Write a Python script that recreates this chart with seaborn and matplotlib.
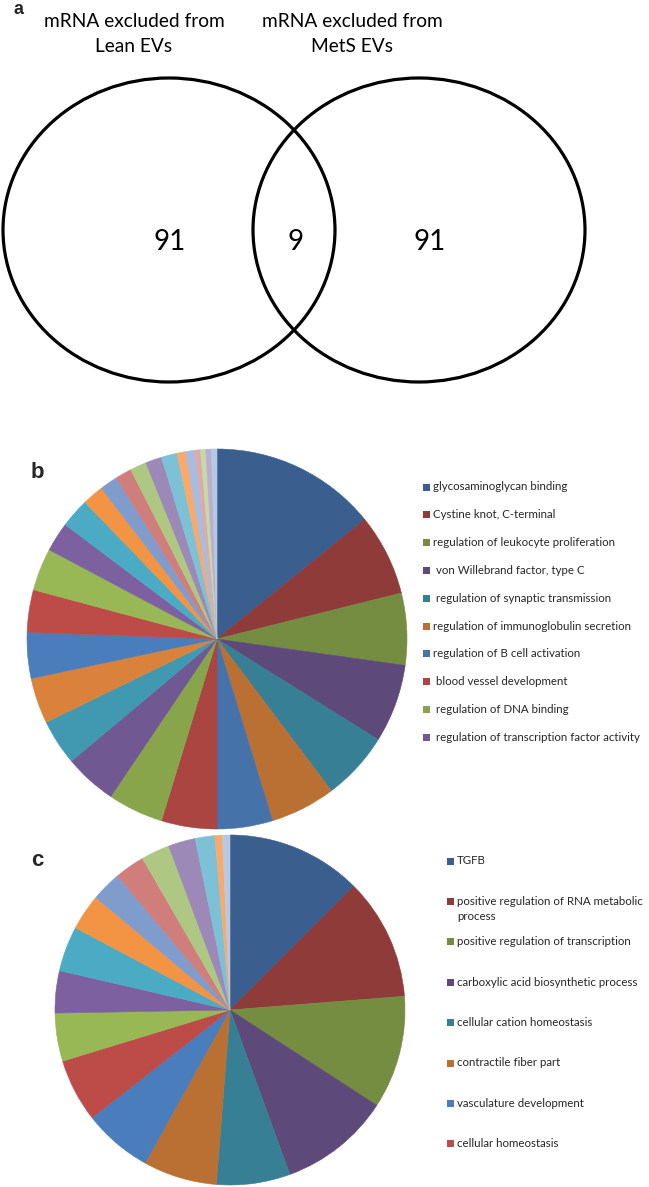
import matplotlib
matplotlib.use("Agg")
import matplotlib.pyplot as plt
from matplotlib.patches import Ellipse, Rectangle
import seaborn as sns

# ---- data -------------------------------------------------------------
venn_titles = ["mRNA excluded from\nLean EVs", "mRNA excluded from\nMetS EVs"]
venn_counts = [91, 9, 91]          # lean only, shared, MetS only

b_labels = ["glycosaminoglycan binding", "Cystine knot, C-terminal",
            "regulation of leukocyte proliferation", " von Willebrand factor, type C",
            " regulation of synaptic transmission", "regulation of immunoglobulin secretion",
            "regulation of B cell activation", " blood vessel development",
            " regulation of DNA binding", " regulation of transcription factor activity"]
# slice sizes (degrees), clockwise from 12 o'clock
b_values = [51, 25, 22, 24, 21, 20, 17, 17, 17, 16, 14, 14, 14, 13, 13,
            9, 9, 6.5, 5.5, 5, 5, 5, 4.8, 2.7, 2.8, 1.7, 1.6, 1.7, 1.7]

c_labels = ["TGFB", "positive regulation of RNA metabolic\nprocess",
            "positive regulation of transcription", "carboxylic acid biosynthetic process",
            "cellular cation homeostasis", "contractile fiber part",
            "vasculature development", "cellular homeostasis"]
c_values = [45, 40.5, 37.5, 37, 24.5, 24.5, 23, 21, 16, 14, 15, 12, 10, 10,
            9.5, 9, 6.5, 2.5, 2.5]

# ---- colours (office-like palette) -------------------------------------
dark = ["#3A5F8F", "#8F3B39", "#748D41", "#5E4A7A", "#377F94", "#BA7033"]
medium = ["#4572A8", "#AA4542", "#88A54C", "#705892", "#4099B0", "#DA823B"]
standard = ["#4A7DBB", "#BD4C49", "#97B855", "#7D60A0", "#4BAAC4", "#F39445"]
light = ["#7F9CCC", "#D07E7B", "#AEC782", "#9C89B8", "#7DC1D6", "#F8A96C"]
lighter = ["#A8BCDF", "#DCAAA9", "#C7D9A6", "#BAAED0", "#B7C8E3"]

b_colors = dark + medium + standard + light + lighter
c_colors = dark + standard + light + ["#B7C8E3"]

# ---- figure ------------------------------------------------------------
sns.set_theme(style="white")
plt.rcParams["font.family"] = ["Lato", "DejaVu Sans"]

W, H = 649, 1187
fig = plt.figure(figsize=(W / 100, H / 100), dpi=100)
fig.patch.set_facecolor("white")

# overlay axis in pixel units for the venn diagram, labels and legends
ax0 = fig.add_axes([0, 0, 1, 1])
ax0.set_xlim(0, W)
ax0.set_ylim(H, 0)
ax0.axis("off")

# panel a: venn
for cx in (169, 419):
    ax0.add_patch(Ellipse((cx, 230), 332, 304, fill=False, lw=2.3, ec="black"))
for x, title in zip((134, 352), venn_titles):
    ax0.text(x, 34, title, ha="center", va="center", fontsize=13.8,
             linespacing=1.55, color="black")
for x, n in zip((170, 296, 430), venn_counts):
    ax0.text(x, 242, str(n), ha="center", va="center", fontsize=20, color="black")

label_font = ["Liberation Sans", "DejaVu Sans"]
ax0.text(18, 10, "a", fontsize=13, fontweight="bold", family=label_font, ha="center", va="center")
ax0.text(37, 472, "b", fontsize=16, fontweight="bold", family=label_font, ha="center", va="center")
ax0.text(37, 861, "c", fontsize=16, fontweight="bold", family=label_font, ha="center", va="center")


def pie_axes(cx, cy, r):
    ax = fig.add_axes([(cx - r) / W, 1 - (cy + r) / H, 2 * r / W, 2 * r / H])
    ax.axis("off")
    return ax


def draw_pie(ax, values, colors):
    wedges, _ = ax.pie(values, colors=colors, startangle=90, counterclock=False,
                       radius=1, wedgeprops=dict(linewidth=0.4))
    for w in wedges:
        w.set_edgecolor(w.get_facecolor())
    ax.set_xlim(-1, 1)
    ax.set_ylim(-1, 1)
    return wedges


ax_b = pie_axes(217, 639, 190)
draw_pie(ax_b, b_values, b_colors)

ax_c = pie_axes(230, 1010, 175)
draw_pie(ax_c, c_values, c_colors)

# legends
txt_color = "#262626"
for i, (lab, col) in enumerate(zip(b_labels, b_colors)):
    y = 487 + i * 27.8
    ax0.add_patch(Rectangle((422.5, y - 3.5), 7, 7, color=col, lw=0))
    ax0.text(433, y, lab, ha="left", va="center", fontsize=8.3, color=txt_color)

for i, (lab, col) in enumerate(zip(c_labels, c_colors)):
    y = 861 + i * 40.4
    ax0.add_patch(Rectangle((446.5, y - 3.5), 7, 7, color=col, lw=0))
    for k, line in enumerate(lab.split("\n")):
        ax0.text(457, y + k * 15, line, ha="left", va="center", fontsize=8.3, color=txt_color)

fig.savefig("out.png", dpi=100, facecolor="white")
